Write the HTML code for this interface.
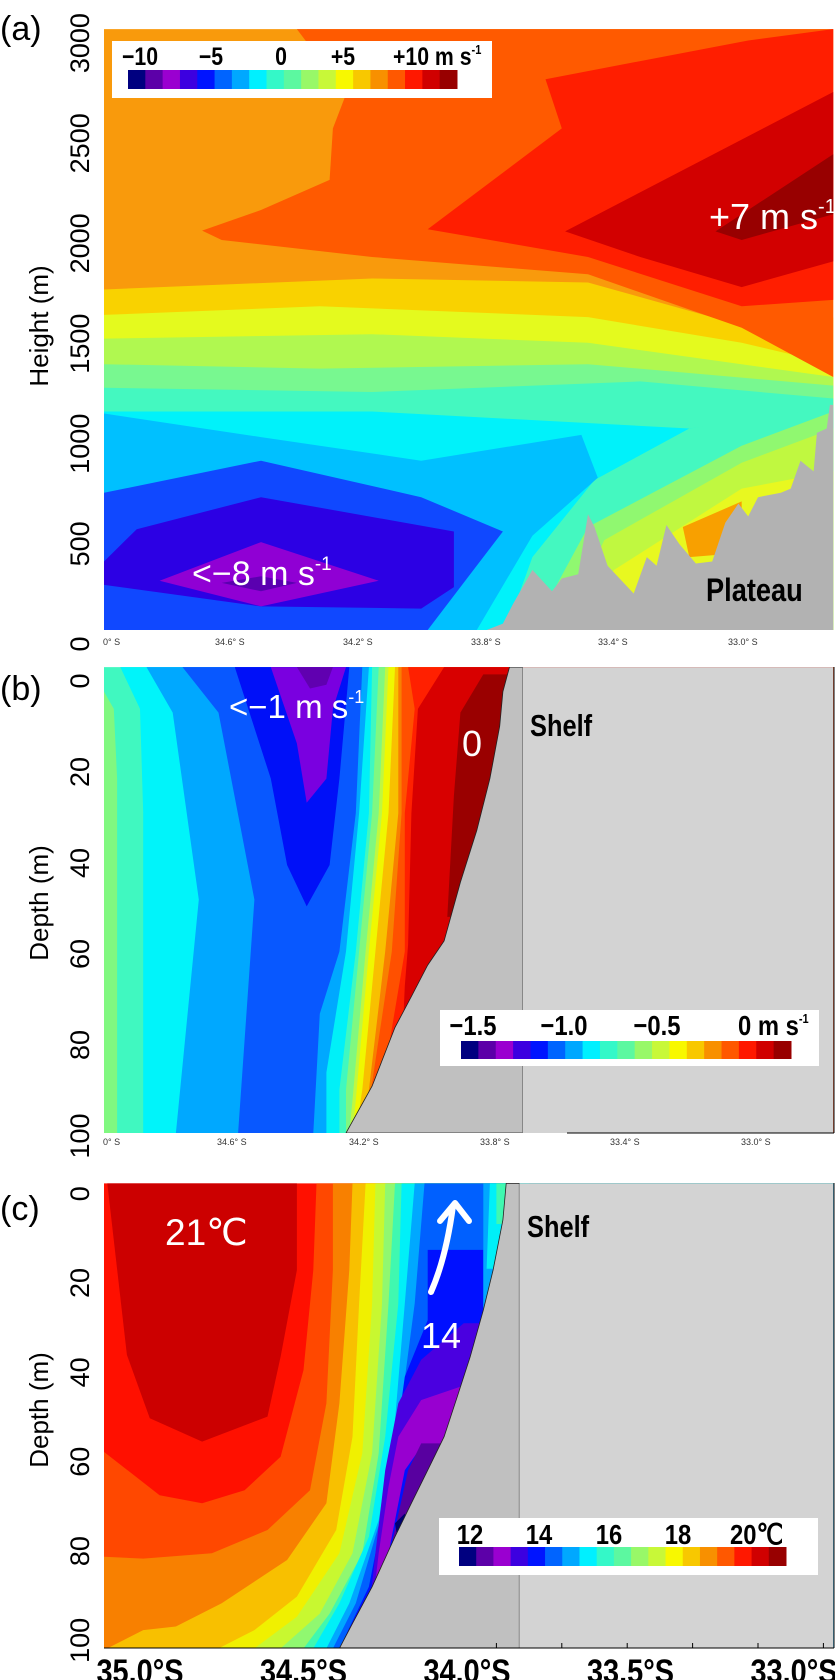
<!DOCTYPE html>
<html><head><meta charset="utf-8">
<style>
html,body{margin:0;padding:0;background:#fff;}
body{width:835px;height:1680px;overflow:hidden;position:relative;font-family:"Liberation Sans",sans-serif;}
svg{position:absolute;left:0;top:0;}
text{font-family:"Liberation Sans",sans-serif;}
</style></head>
<body>
<svg id="fig" width="835" height="1680" viewBox="0 0 835 1680">
<defs>
<clipPath id="clipA"><rect x="104" y="29" width="730" height="601"/></clipPath>
<clipPath id="clipB"><rect x="104" y="667" width="730" height="466"/></clipPath>
<clipPath id="clipC"><rect x="104" y="1183" width="730" height="465"/></clipPath>
</defs>
<g id="gA" clip-path="url(#clipA)"></g>
<g id="gB" clip-path="url(#clipB)"></g>
<g id="gC" clip-path="url(#clipC)"></g>
<g id="gCb"></g>

<text x="0" y="40" font-size="34">(a)</text>
<text transform="translate(48,326) rotate(-90)" text-anchor="middle" font-size="26">Height  (m)</text>
<g id="aYT" font-size="27"></g>
<g font-size="9" fill="#333">
<text x="103" y="645">0° S</text><text x="215" y="645">34.6° S</text><text x="343" y="645">34.2° S</text><text x="471" y="645">33.8° S</text><text x="598" y="645">33.4° S</text><text x="728" y="645">33.0° S</text>
</g>
<text x="709" y="229" font-size="36" fill="#fff">+7 m s<tspan font-size="20" dy="-16">-1</tspan></text>
<text x="192" y="585" font-size="34" fill="#fff">&lt;−8 m s<tspan font-size="19" dy="-15">-1</tspan></text>
<text transform="translate(706,601) scale(0.85,1)" font-size="32" font-weight="bold">Plateau</text>

<text x="0" y="700" font-size="34">(b)</text>
<text transform="translate(48,903) rotate(-90)" text-anchor="middle" font-size="26">Depth (m)</text>
<g id="bYT" font-size="27"></g>
<g font-size="9" fill="#333">
<text x="103" y="1145">0° S</text><text x="217" y="1145">34.6° S</text><text x="349" y="1145">34.2° S</text><text x="480" y="1145">33.8° S</text><text x="610" y="1145">33.4° S</text><text x="741" y="1145">33.0° S</text>
</g>
<text x="229" y="718" font-size="33" fill="#fff">&lt;−1 m s<tspan font-size="18" dy="-15">-1</tspan></text>
<text x="462" y="756" font-size="36" fill="#fff">0</text>
<text transform="translate(530,736) scale(0.82,1)" font-size="31" font-weight="bold">Shelf</text>

<text x="0" y="1220" font-size="34">(c)</text>
<text transform="translate(48,1410) rotate(-90)" text-anchor="middle" font-size="26">Depth (m)</text>
<g id="cYT" font-size="27"></g>
<text x="165" y="1245" font-size="37" fill="#fff">21℃</text>
<text x="421" y="1348" font-size="36" fill="#fff">14</text>
<text transform="translate(527,1237) scale(0.82,1)" font-size="31" font-weight="bold">Shelf</text>
<g fill="none" stroke="#fff" stroke-width="6" stroke-linecap="round" stroke-linejoin="round">
<path d="M431,1292 Q446,1258 453,1206"/>
<path d="M440,1221 L455,1203 L469,1221"/>
</g>
<g id="cXT" font-size="34" font-weight="bold"></g>
</svg>

<script>
const PAL = ['#000080','#5c00a8','#9a00d0','#3c00e0','#0014ff','#0064ff','#00a8ff','#00f0ff','#34f8c8','#5cf8a0','#98f868','#c8f838','#f8f800','#f8c800','#f89000','#ff5800','#ff1800','#d00000','#980000'];
const LAT_W = 35.0, LAT_E = 32.77;
function X(lat){ return 104 + (35 - lat) * 327; }
function Ya(h){ return 630 - h * 0.2003; }
function Yb(d){ return 678 + d * 4.55; }
function Yc(d){ return 1201.7 + d * 4.467; }
const NS = 'http://www.w3.org/2000/svg';
function poly(g, pts, Y, fill, name){
  const el = document.createElementNS(NS, 'polygon');
  el.setAttribute('points', pts.map(p => X(p[0]).toFixed(1) + ',' + Y(p[1]).toFixed(1)).join(' '));
  el.setAttribute('fill', fill);
  
  
  g.appendChild(el);
  return el;
}
function txt(g, x, y, s, attrs, name){
  const el = document.createElementNS(NS, 'text');
  el.setAttribute('x', x); el.setAttribute('y', y);
  for (const k in attrs) el.setAttribute(k, attrs[k]);
  el.textContent = s;
  
  
  g.appendChild(el);
  return el;
}

// panel a
const aTop = 3000, aBot = 0;
const aGold = [[35,1700],[34.18,1755],[33.52,1735],[33.05,1520],[32.87,1500],[32.77,1560]];
const aYellow = [[35,1573],[34.34,1616],[33.52,1562],[33.05,1434],[32.77,1327]];
const aYG = [[35,1455],[34.18,1477],[33.52,1434],[32.77,1263]];
const aLG = [[35,1327],[34.34,1305],[33.52,1327],[32.77,1220]];
const aAqua = [[35,1209],[34.18,1188],[33.36,1241],[32.77,1156]];
const aCyan = [[35,1091],[34.18,1091],[33.21,1006],[32.77,1091]];
const aAqua2 = [[33.50,749],[33.21,1006],[32.77,1113],[32.77,0],[33.77,0],[33.69,364]];
const aLG2 = [[33.52,514],[33.05,920],[32.77,1091],[32.77,0],[33.69,0]];
const aYG2 = [[33.47,449],[33.05,835],[32.77,1006],[32.77,0],[33.60,0]];
const aYel2 = [[33.44,300],[33.05,706],[32.77,792],[32.77,0],[33.56,0]];
const aOrWedge = [[33.23,514],[33.05,642],[33.05,385],[33.21,364]];
const aLBlue = [[35,1081],[34.52,963],[34.03,845],[33.54,974],[33.49,760],[33.69,471],[33.86,0],[35,0]];
const aBlue = [[35,685],[34.52,845],[34.03,663],[33.78,492],[33.88,278],[34.01,0],[35,0]];
const aIndigo = [[35,342],[34.90,503],[34.52,663],[33.93,492],[33.93,214],[34.03,107],[34.52,118],[35,225]];
const aPurple = [[34.83,246],[34.52,439],[34.16,246],[34.52,118]];
const aDPurple = [[34.64,235],[34.52,268],[34.41,235],[34.52,193]];
const aOrRed = [[34.41,3000],[32.77,3000],[32.77,1263],[33.05,1509],[33.52,1776],[34.18,1862],[34.64,1947],[34.70,1994],[34.52,2097],[34.31,2247],[34.30,2504],[34.26,2675]];
const aRed = [[33.65,2750],[33.03,2943],[32.77,3000],[32.77,1648],[33.05,1616],[33.52,1862],[34.01,2001],[33.60,2504]];
const aDRed = [[33.59,1990],[32.77,2686],[32.77,1840],[33.05,1712],[33.36,1862]];
const aMaroon = [[33.13,1990],[32.77,2375],[32.77,2076],[33.05,1947]];
const aTerrain = [[33.83,0],[33.78,32],[33.75,128],[33.69,300],[33.63,193],[33.60,257],[33.55,278],[33.52,578],[33.50,514],[33.46,321],[33.38,182],[33.34,364],[33.31,321],[33.28,524],[33.24,428],[33.19,332],[33.14,342],[33.10,535],[33.06,631],[33.03,567],[33.00,663],[32.93,685],[32.90,706],[32.87,845],[32.83,792],[32.82,984],[32.79,1006],[32.78,1124],[32.77,1124],[32.77,0]];
const aTicks = [3000,2500,2000,1500,1000,500,0];

(function(){
  const g = document.getElementById('gA');
  const below = p => p.concat([[LAT_E,aBot],[LAT_W,aBot]]);
  poly(g, [[LAT_W,aTop],[LAT_E,aTop],[LAT_E,aBot],[LAT_W,aBot]], Ya, '#f99a0c', 'a-band-orange');
  poly(g, below(aGold), Ya, '#f9d200', 'a-band-gold');
  poly(g, below(aYellow), Ya, '#e4fa1e', 'a-band-yellow');
  poly(g, below(aYG), Ya, '#b0f850', 'a-band-yellowgreen');
  poly(g, below(aLG), Ya, '#78f890', 'a-band-lightgreen');
  poly(g, below(aAqua), Ya, '#44f8c0', 'a-band-aquamarine');
  poly(g, below(aCyan), Ya, '#00f2fa', 'a-band-cyan');
  poly(g, aAqua2, Ya, '#44f8c0', 'a-band-aquamarine-2');
  poly(g, aLG2, Ya, '#90f870', 'a-band-lightgreen-2');
  poly(g, aYG2, Ya, '#c0f840', 'a-band-yellowgreen-2');
  poly(g, aYel2, Ya, '#e8f820', 'a-band-yellow-2');
  poly(g, aOrWedge, Ya, '#f8a000', 'a-band-orange-wedge');
  poly(g, aLBlue, Ya, '#00c0ff', 'a-band-lightblue');
  poly(g, aBlue, Ya, '#1048ff', 'a-band-blue');
  poly(g, aIndigo, Ya, '#2c00e4', 'a-band-indigo');
  poly(g, aPurple, Ya, '#9000d4', 'a-band-purple');
  poly(g, aDPurple, Ya, '#5a00b0', 'a-band-darkpurple');
  poly(g, aOrRed, Ya, '#ff5a00', 'a-band-orangered');
  poly(g, aRed, Ya, '#ff1e00', 'a-band-red');
  poly(g, aDRed, Ya, '#d20000', 'a-band-darkred');
  poly(g, aMaroon, Ya, '#980000', 'a-band-maroon');
  poly(g, aTerrain, Ya, '#b2b2b2', 'plateau-terrain');
  const yt = document.getElementById('aYT');
  aTicks.forEach(t => {
    txt(yt, 0, 0, String(t), {'text-anchor':'middle','dominant-baseline':'central','transform':'translate(80,' + (Ya(t)+14).toFixed(1) + ') rotate(-90)'}, 'a-y-tick-label');
  });
})();

// panel b
const bTop = -2.4, bBot = 100;
const bLGStrip = [[35.00,3.0],[34.97,6.8],[34.96,22.1],[34.96,100],[35.0,100]];
const bCyan = [[34.95,-2.4],[34.89,6.8],[34.88,29.7],[34.88,100]];
const bLBlue = [[34.87,-2.4],[34.79,7.6],[34.71,48.7],[34.78,100]];
const bBlue2 = [[34.76,-2.4],[34.65,7.6],[34.54,48.7],[34.59,100]];
const bBlueV = [[34.60,-2.4],[34.49,22.1],[34.44,41.1],[34.38,50.2],[34.31,41.1],[34.28,22.1],[34.25,-2.4]];
const bPurple = [[34.49,-2.4],[34.41,14.4],[34.38,27.4],[34.32,22.1],[34.30,6.8],[34.26,-2.4]];
const bDPurple = [[34.41,-2.4],[34.37,2.3],[34.32,1.5],[34.30,-2.4]];
const bLBlue2 = [[34.21,-2.4],[34.23,29.7],[34.28,60.1],[34.34,73.8],[34.36,100]];
const bCyan2 = [[34.19,-2.4],[34.22,29.7],[34.26,60.1],[34.32,86.7],[34.32,100]];
const bAqua2 = [[34.18,-2.4],[34.19,29.7],[34.23,60.1],[34.28,90.5],[34.28,100]];
const bLG2 = [[34.16,-2.4],[34.18,29.7],[34.22,60.1],[34.26,90.5],[34.26,100]];
const bYG = [[34.14,-2.4],[34.16,29.7],[34.20,60.1],[34.24,92.8],[34.25,100]];
const bYellow = [[34.13,-2.4],[34.15,29.7],[34.19,60.1],[34.23,92.8],[34.24,100]];
const bGold = [[34.11,-2.4],[34.13,29.7],[34.17,60.1],[34.21,90.5],[34.23,100]];
const bOrange = [[34.10,-2.4],[34.10,29.7],[34.14,60.1],[34.19,90.5],[34.22,100]];
const bOrRed = [[34.09,-2.4],[34.09,29.7],[34.12,60.1],[34.18,89.0],[34.21,100]];
const bRed = [[34.07,-2.4],[34.05,6.8],[34.08,29.7],[34.08,60.1],[34.13,81.4],[34.20,100]];
const bDRed = [[33.96,-2.4],[34.04,6.8],[34.06,29.7],[34.07,58.6],[34.08,67.7],[34.10,100]];
const bMaroon = [[33.84,-0.8],[33.91,7.6],[33.93,25.9],[33.95,52.5],[33.80,52.5],[33.70,-0.8]];
const bShelf = [[33.76,-2.4],[33.78,3.0],[33.79,10.6],[33.82,22.1],[33.86,33.5],[33.91,44.9],[33.96,57.8],[34.01,63.1],[34.06,70.0],[34.11,76.8],[34.18,89.7],[34.26,100],[33.72,100],[33.72,-2.4]];
const bShelfLight = [[33.72,-2.4],[32.77,-2.4],[32.77,100],[33.72,100]];
const bTicks = [0,20,40,60,80,100];

(function(){
  const g = document.getElementById('gB');
  const right = p => p.concat([[LAT_E,bBot],[LAT_E,bTop]]);
  poly(g, [[LAT_W,bTop],[LAT_E,bTop],[LAT_E,bBot],[LAT_W,bBot]], Yb, '#40f8c0', 'b-band-aquamarine');
  poly(g, bLGStrip, Yb, '#80f880', 'b-band-lightgreen');
  poly(g, right(bCyan), Yb, '#00f4fa', 'b-band-cyan');
  poly(g, right(bLBlue), Yb, '#00a8ff', 'b-band-lightblue');
  poly(g, right(bBlue2), Yb, '#0858ff', 'b-band-blue');
  poly(g, bBlueV, Yb, '#0010f8', 'b-band-deepblue');
  poly(g, bPurple, Yb, '#7a00e0', 'b-band-purple');
  poly(g, bDPurple, Yb, '#6000b0', 'b-band-darkpurple');
  poly(g, right(bLBlue2), Yb, '#00a8ff', 'b-band-lightblue-2');
  poly(g, right(bCyan2), Yb, '#00f0f8', 'b-band-cyan-2');
  poly(g, right(bAqua2), Yb, '#40f8c0', 'b-band-aquamarine-2');
  poly(g, right(bLG2), Yb, '#80f880', 'b-band-lightgreen-2');
  poly(g, right(bYG), Yb, '#c0f840', 'b-band-yellowgreen');
  poly(g, right(bYellow), Yb, '#f0f800', 'b-band-yellow');
  poly(g, right(bGold), Yb, '#f8c000', 'b-band-gold');
  poly(g, right(bOrange), Yb, '#f88000', 'b-band-orange');
  poly(g, right(bOrRed), Yb, '#ff5000', 'b-band-orangered');
  poly(g, right(bRed), Yb, '#ff2000', 'b-band-red');
  poly(g, right(bDRed), Yb, '#d80000', 'b-band-darkred');
  poly(g, bMaroon, Yb, '#9a0000', 'b-band-maroon');
  const sh = poly(g, bShelf, Yb, '#c0c0c0', 'b-shelf-slope');
  sh.setAttribute('stroke', '#222'); sh.setAttribute('stroke-width', '0.8');
  poly(g, bShelfLight, Yb, '#d3d3d3', 'b-shelf');
  const yt = document.getElementById('bYT');
  bTicks.forEach(t => {
    txt(yt, 0, 0, String(t), {'text-anchor':'middle','dominant-baseline':'central','transform':'translate(80,' + (Yb(t)+3).toFixed(1) + ') rotate(-90)'}, 'b-y-tick-label');
  });
})();

// panel c
const cTop = -4.1, cBot = 100;
const cDRed = [[34.99,-4.1],[34.41,-4.1],[34.41,15.3],[34.46,34.7],[34.50,48.1],[34.70,53.7],[34.86,48.5],[34.93,34.3]];
const cOrRed = [[34.35,-4.1],[34.36,15.3],[34.39,37.7],[34.46,57.1],[34.57,64.6],[34.70,67.5],[34.83,65.7],[35.0,56.0]];
const cOrange = [[35,79.5],[34.88,79.9],[34.67,78.7],[34.50,73.5],[34.37,64.6],[34.32,45.1],[34.30,15.3],[34.30,-4.1]];
const cGold = [[34.99,100],[34.88,95.9],[34.78,95.1],[34.64,89.9],[34.44,80.2],[34.32,67.5],[34.28,45.1],[34.25,15.3],[34.24,-4.1]];
const cYellow = [[34.65,100],[34.54,95.9],[34.41,88.4],[34.29,73.5],[34.24,52.6],[34.22,22.8],[34.20,-4.1]];
const cYG = [[34.54,100],[34.41,92.9],[34.28,78.7],[34.21,56.3],[34.18,22.8],[34.17,-4.1]];
const cLG = [[34.46,100],[34.34,92.2],[34.24,78.7],[34.18,56.3],[34.15,22.8],[34.14,-4.1]];
const cAqua = [[34.39,100],[34.31,92.2],[34.21,78.7],[34.16,56.3],[34.13,22.8],[34.11,-4.1]];
const cCyan = [[34.36,100],[34.28,89.9],[34.19,75.0],[34.14,52.6],[34.10,22.8],[34.09,-4.1]];
const cLBlue = [[34.32,100],[34.25,89.9],[34.16,71.3],[34.11,48.9],[34.08,22.8],[34.05,-4.1]];
const cBlue2 = [[34.30,100],[34.23,89.9],[34.14,67.5],[34.09,45.1],[34.05,22.8],[34.02,-4.1]];
const cBlue = [[34.28,100],[34.19,86.2],[34.12,60.1],[34.08,39.2],[34.01,26.5],[34.01,10.8],[33.84,10.8],[33.84,27.2],[33.87,34.7],[34.18,100]];
const cStripLB = [[33.84,-4.1],[33.70,-4.1],[33.70,24],[33.84,24]];
const cStripCy = [[33.82,-4.1],[33.70,-4.1],[33.70,15],[33.83,15]];
const cStripAq = [[33.80,-4.1],[33.70,-4.1],[33.70,5],[33.80,5]];
const cIndigo = [[33.90,27.2],[33.75,27.2],[33.75,41.4],[33.91,41.4],[34.03,44.4],[34.09,54.1],[34.12,67.5],[34.18,89.9],[34.19,92.2],[34.17,78.7],[34.14,60.1],[34.10,45.1],[34.03,35.4]];
const cPurple = [[34.03,44.4],[33.91,41.4],[33.75,41.4],[33.75,54.9],[33.97,54.5],[34.03,54.9],[34.08,60.1],[34.11,71.3],[34.14,82.5],[34.18,91.4],[34.16,78.7],[34.13,63.8],[34.10,52.6]];
const cDPurple = [[34.03,54.1],[33.90,54.1],[33.90,70],[34.12,76.5],[34.10,70],[34.07,60.1]];
const cNavy = [[34.11,72.0],[34.08,69.8],[34.07,73],[34.10,76.5]];
const cShelf = [[33.77,-4.1],[33.78,4.1],[33.81,15.3],[33.84,24.3],[33.88,34.7],[33.92,43.7],[33.96,52.6],[34.01,60.1],[34.06,67.5],[34.11,75.0],[34.18,86.2],[34.24,94.4],[34.28,100],[33.73,100],[33.73,-4.1]];
const cShelfLight = [[33.73,-4.1],[32.77,-4.1],[32.77,100],[33.73,100]];
const cTicks = [0,20,40,60,80,100];
const cXTickLat = [35.0,34.5,34.0,33.5,33.0];
const cXTickLabels = ['35.0°S','34.5°S','34.0°S','33.5°S','33.0°S'];
const cMinorLat = [33.8,33.6,33.4,33.2,33.0,32.8];

(function(){
  const g = document.getElementById('gC');
  const rightUp = p => p.concat([[LAT_E,cTop],[LAT_E,cBot]]);
  poly(g, [[LAT_W,cTop],[LAT_E,cTop],[LAT_E,cBot],[LAT_W,cBot]], Yc, '#ff1000', 'c-band-red');
  poly(g, cDRed, Yc, '#cc0000', 'c-band-darkred');
  poly(g, cOrRed.concat([[LAT_W,cBot],[LAT_E,cBot],[LAT_E,cTop]]), Yc, '#ff4800', 'c-band-orangered');
  poly(g, cOrange.concat([[LAT_E,cTop],[LAT_E,cBot],[LAT_W,cBot]]), Yc, '#f88000', 'c-band-orange');
  poly(g, rightUp(cGold), Yc, '#f8c000', 'c-band-gold');
  poly(g, rightUp(cYellow), Yc, '#f0f000', 'c-band-yellow');
  poly(g, rightUp(cYG), Yc, '#c8f830', 'c-band-yellowgreen');
  poly(g, rightUp(cLG), Yc, '#90f870', 'c-band-lightgreen');
  poly(g, rightUp(cAqua), Yc, '#40f8b0', 'c-band-aquamarine');
  poly(g, rightUp(cCyan), Yc, '#00f0f8', 'c-band-cyan');
  poly(g, rightUp(cLBlue), Yc, '#00a8ff', 'c-band-lightblue');
  poly(g, rightUp(cBlue2), Yc, '#0060ff', 'c-band-blue');
  poly(g, cBlue, Yc, '#0010ff', 'c-band-deepblue');
  poly(g, cStripLB, Yc, '#00a8ff', 'c-strip-lightblue');
  poly(g, cStripCy, Yc, '#00f0f8', 'c-strip-cyan');
  poly(g, cStripAq, Yc, '#40f8b0', 'c-strip-aquamarine');
  poly(g, cIndigo, Yc, '#4a00e0', 'c-band-indigo');
  poly(g, cPurple, Yc, '#9800d0', 'c-band-purple');
  poly(g, cDPurple, Yc, '#5800a0', 'c-band-darkpurple');
  poly(g, cNavy, Yc, '#000070', 'c-band-navy');
  const sh = poly(g, cShelf, Yc, '#c0c0c0', 'c-shelf-slope');
  sh.setAttribute('stroke', '#222'); sh.setAttribute('stroke-width', '0.8');
  poly(g, cShelfLight, Yc, '#d3d3d3', 'c-shelf');
  const yt = document.getElementById('cYT');
  cTicks.forEach(t => {
    txt(yt, 0, 0, String(t), {'text-anchor':'middle','dominant-baseline':'central','transform':'translate(80,' + (Yc(t)-8).toFixed(1) + ') rotate(-90)'}, 'c-y-tick-label');
  });
  const xt = document.getElementById('cXT');
  cXTickLat.forEach((lat, i) => {
    txt(xt, 0, 0, cXTickLabels[i], {'text-anchor':'middle','transform':'translate(' + (X(lat)+36).toFixed(1) + ',1683) scale(0.85,1)'}, 'c-x-tick-label');
  });
  const fig = document.getElementById('fig');
  cMinorLat.forEach(lat => {
    const l = document.createElementNS(NS, 'line');
    l.setAttribute('x1', X(lat)); l.setAttribute('x2', X(lat));
    l.setAttribute('y1', 1648); l.setAttribute('y2', 1643);
    l.setAttribute('stroke', '#000'); l.setAttribute('stroke-width', '1');
    
    
    fig.appendChild(l);
  });
})();

// colorbars
const cbA = ['−10','−5','0','+5'];
const cbAx = [140,211,281,343];
const cbB = ['−1.5','−1.0','−0.5'];
const cbBx = [473,564,657];
const cbC = ['12','14','16','18'];
const cbCx = [470,539,609,678];
(function(){
  const g = document.getElementById('gCb');
  function bar(bx, by, bw, bh, cx0, cx1, cy, ch, labels, lx, ly, lastLabel, lastX, prefix, fs){
    const box = document.createElementNS(NS, 'rect');
    box.setAttribute('x', bx); box.setAttribute('y', by); box.setAttribute('width', bw); box.setAttribute('height', bh);
    box.setAttribute('fill', '#fff');
    
    
    g.appendChild(box);
    const w = (cx1 - cx0) / PAL.length;
    PAL.forEach((c, i) => {
      const r = document.createElementNS(NS, 'rect');
      r.setAttribute('x', (cx0 + i * w).toFixed(2)); r.setAttribute('y', cy);
      r.setAttribute('width', (w + 0.5).toFixed(2)); r.setAttribute('height', ch);
      r.setAttribute('fill', c);
      
      
      g.appendChild(r);
    });
    labels.forEach((s, i) => {
      txt(g, 0, 0, s, {'text-anchor':'middle','font-size':fs,'font-weight':'bold','transform':'translate(' + lx[i] + ',' + ly + ') scale(0.85,1)'}, prefix + '-colorbar-label');
    });
    return txt(g, 0, 0, lastLabel, {'text-anchor':'start','font-size':fs,'font-weight':'bold','transform':'translate(' + lastX + ',' + ly + ') scale(0.85,1)'}, prefix + '-colorbar-unit');
  }
  const la = bar(112, 41, 380, 57, 128, 457, 70, 19, cbA, cbAx, 65, '+10 m s', 393, 'a', 25);
  const sa = document.createElementNS(NS, 'tspan'); sa.setAttribute('font-size', '13'); sa.setAttribute('dy', '-11'); sa.textContent = '-1'; la.appendChild(sa);
  const lb = bar(440, 1010, 379, 56, 461, 791, 1041, 18, cbB, cbBx, 1035, '0 m s', 738, 'b', 28);
  const sb = document.createElementNS(NS, 'tspan'); sb.setAttribute('font-size', '13'); sb.setAttribute('dy', '-12'); sb.textContent = '-1'; lb.appendChild(sb);
  bar(439, 1518, 379, 57, 459, 786, 1547, 19, cbC, cbCx, 1544, '20℃', 730, 'c', 28);
  const fig = document.getElementById('fig');
  [[834,667,834,1133],[567,1133,834,1133],[834,1183,834,1648],[104,1648,834,1648]].forEach(s => {
    const l = document.createElementNS(NS, 'line');
    l.setAttribute('x1', s[0]); l.setAttribute('y1', s[1]); l.setAttribute('x2', s[2]); l.setAttribute('y2', s[3]);
    l.setAttribute('stroke', '#000'); l.setAttribute('stroke-width', '1');
    
    
    fig.appendChild(l);
  });
})();
</script>
</body></html>
